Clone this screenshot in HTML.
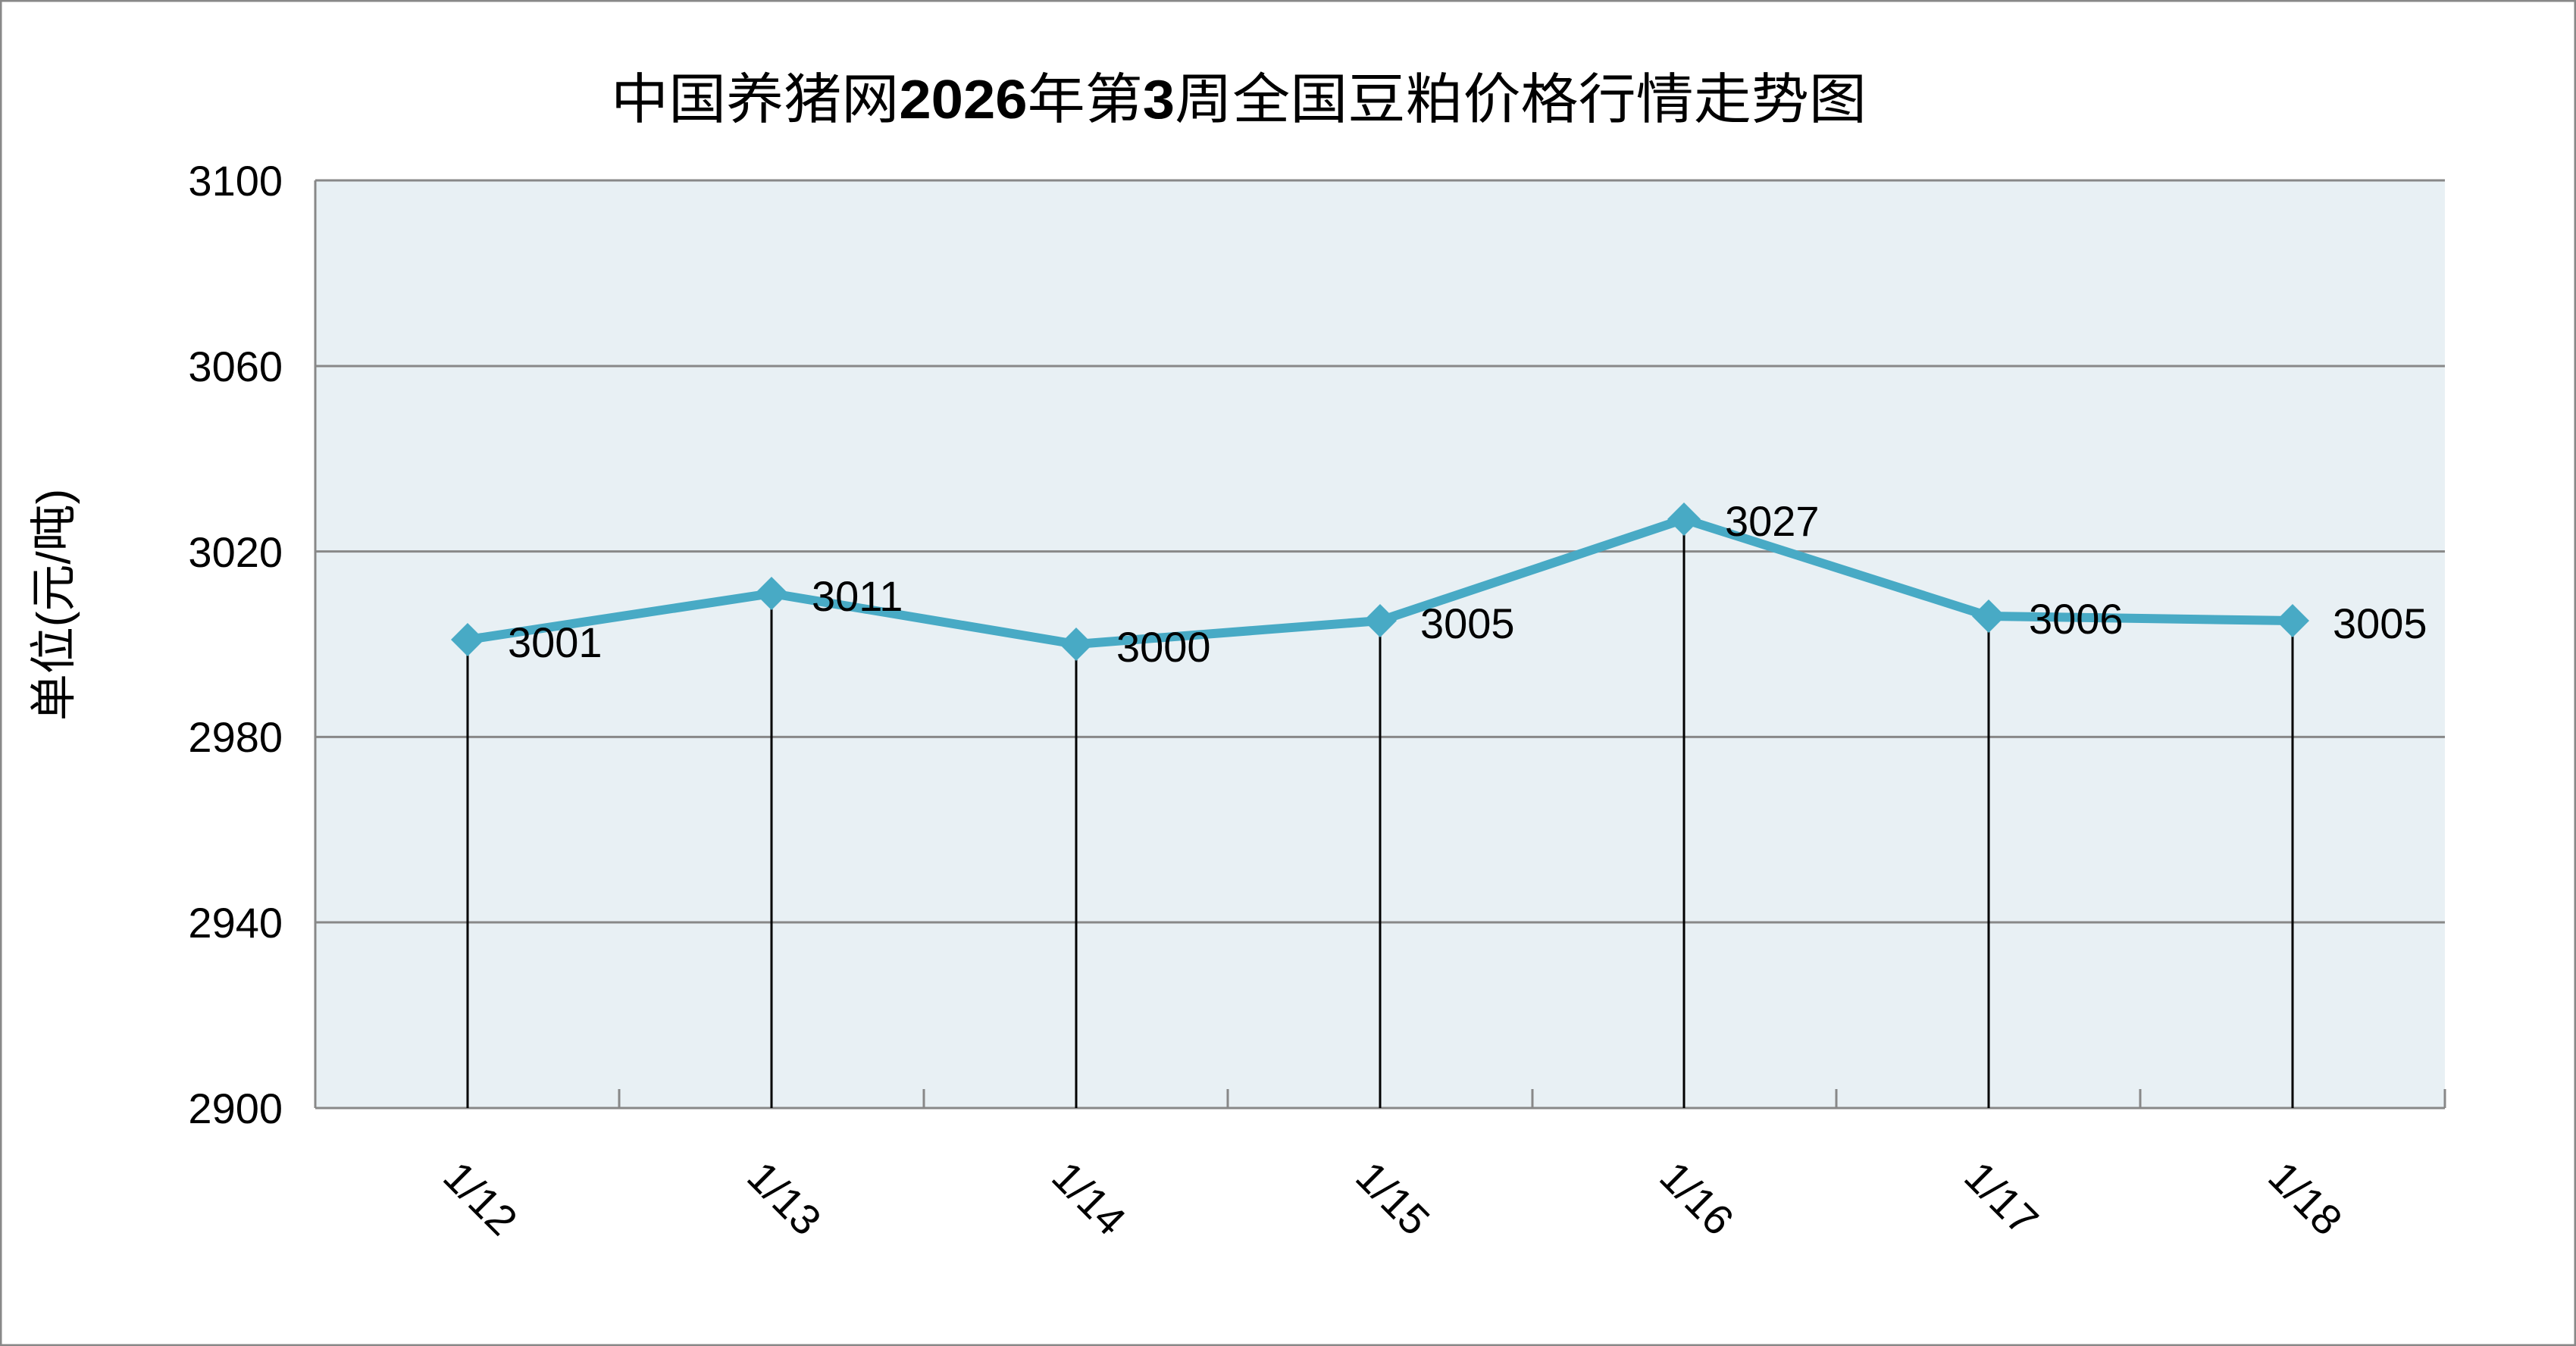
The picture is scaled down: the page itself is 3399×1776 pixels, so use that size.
<!DOCTYPE html>
<html><head><meta charset="utf-8"><style>html,body{margin:0;padding:0;background:#fff}svg{display:block}</style></head>
<body>
<svg width="3399" height="1776" viewBox="0 0 3399 1776" xmlns="http://www.w3.org/2000/svg" font-family="'Liberation Sans','Noto Sans CJK SC',sans-serif">
<rect x="1" y="1" width="3397" height="1774" fill="#fff" stroke="#888" stroke-width="3"/>
<text x="806" y="156" font-size="72" textLength="1657" lengthAdjust="spacingAndGlyphs">中国养猪网<tspan font-weight="bold">2026</tspan>年第<tspan font-weight="bold">3</tspan>周全国豆粕价格行情走势图</text>
<rect x="416" y="238" width="2810" height="1224" fill="#e8f0f4"/>
<g stroke="#888" stroke-width="3">
<line x1="416" y1="238" x2="3226" y2="238"/>
<line x1="416" y1="483" x2="3226" y2="483"/>
<line x1="416" y1="727.6" x2="3226" y2="727.6"/>
<line x1="416" y1="972.4" x2="3226" y2="972.4"/>
<line x1="416" y1="1217" x2="3226" y2="1217"/>
<line x1="416" y1="1462" x2="3226" y2="1462"/>
<line x1="416" y1="238" x2="416" y2="1462"/>
<line x1="817" y1="1437" x2="817" y2="1462"/>
<line x1="1219" y1="1437" x2="1219" y2="1462"/>
<line x1="1620" y1="1437" x2="1620" y2="1462"/>
<line x1="2022" y1="1437" x2="2022" y2="1462"/>
<line x1="2423" y1="1437" x2="2423" y2="1462"/>
<line x1="2824" y1="1437" x2="2824" y2="1462"/>
<line x1="3226" y1="1437" x2="3226" y2="1462"/>
</g>
<g font-size="56" text-anchor="end" fill="#000">
<text x="373" y="258">3100</text>
<text x="373" y="503">3060</text>
<text x="373" y="748">3020</text>
<text x="373" y="992">2980</text>
<text x="373" y="1237">2940</text>
<text x="373" y="1482">2900</text>
</g>
<text transform="translate(92,798) rotate(-90)" font-size="62" text-anchor="middle">单位(元/吨)</text>
<g stroke="#000" stroke-width="3">
<line x1="617" y1="844" x2="617" y2="1462"/>
<line x1="1018" y1="783" x2="1018" y2="1462"/>
<line x1="1420" y1="850" x2="1420" y2="1462"/>
<line x1="1821" y1="819" x2="1821" y2="1462"/>
<line x1="2222" y1="685" x2="2222" y2="1462"/>
<line x1="2624" y1="813" x2="2624" y2="1462"/>
<line x1="3025" y1="819" x2="3025" y2="1462"/>
</g>
<polyline fill="none" stroke="#48aac5" stroke-width="12" stroke-linejoin="round" points="617,844 1018,783 1420,850 1821,819 2222,685 2624,813 3025,819"/>
<g fill="#48aac5">
<path d="M617,822 L639,844 L617,866 L595,844Z"/>
<path d="M1018,761 L1040,783 L1018,805 L996,783Z"/>
<path d="M1420,828 L1442,850 L1420,872 L1398,850Z"/>
<path d="M1821,797 L1843,819 L1821,841 L1799,819Z"/>
<path d="M2222,663 L2244,685 L2222,707 L2200,685Z"/>
<path d="M2624,791 L2646,813 L2624,835 L2602,813Z"/>
<path d="M3025,797 L3047,819 L3025,841 L3003,819Z"/>
</g>
<g font-size="56" fill="#000">
<text x="670" y="867">3001</text>
<text x="1071" y="806">3011</text>
<text x="1473" y="873">3000</text>
<text x="1874" y="842">3005</text>
<text x="2276" y="707">3027</text>
<text x="2677" y="836">3006</text>
<text x="3078" y="842">3005</text>
</g>
<g font-size="56" text-anchor="middle" fill="#000">
<text transform="translate(633,1582) rotate(45)" dy="18">1/12</text>
<text transform="translate(1034,1582) rotate(45)" dy="18">1/13</text>
<text transform="translate(1436,1582) rotate(45)" dy="18">1/14</text>
<text transform="translate(1837,1582) rotate(45)" dy="18">1/15</text>
<text transform="translate(2238,1582) rotate(45)" dy="18">1/16</text>
<text transform="translate(2640,1582) rotate(45)" dy="18">1/17</text>
<text transform="translate(3041,1582) rotate(45)" dy="18">1/18</text>
</g>
</svg>
</body></html>
